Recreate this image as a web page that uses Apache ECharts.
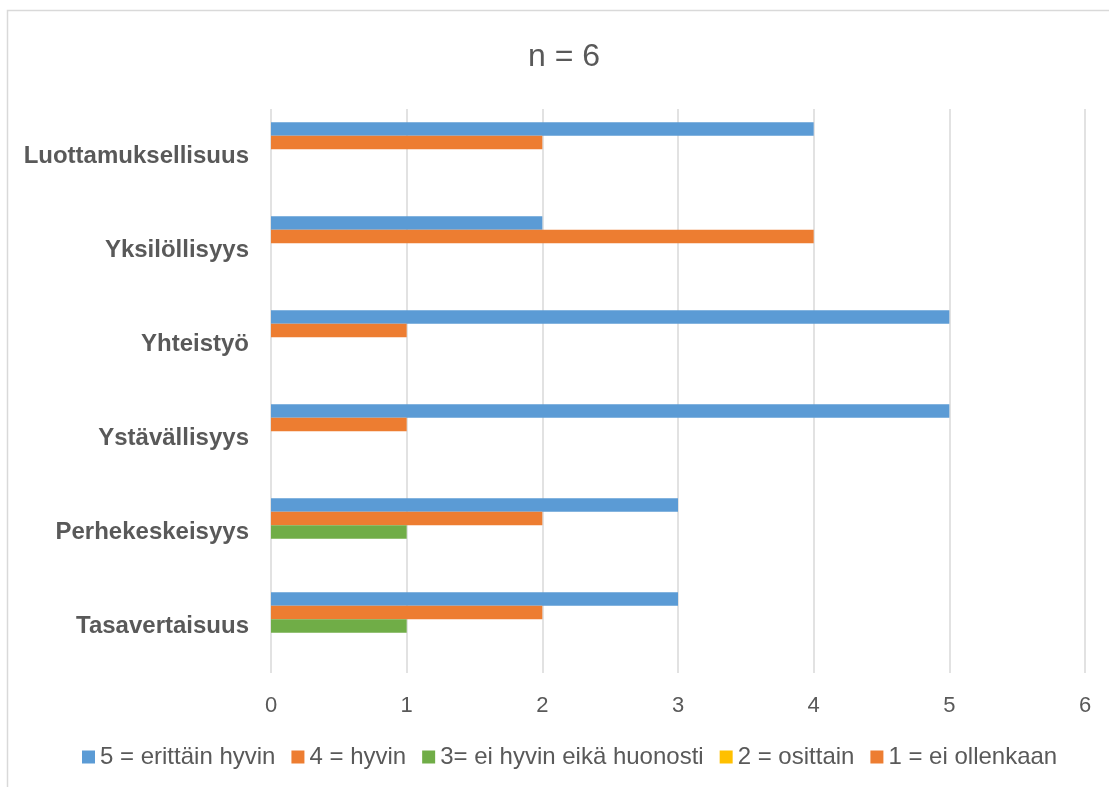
<!DOCTYPE html>
<html>
<head>
<meta charset="utf-8">
<title>n = 6</title>
<script src="https://cdn.jsdelivr.net/npm/echarts@6/dist/echarts.min.js"></script>
<style>
  html, body { margin: 0; padding: 0; background: #ffffff; }
  #chart { width: 1109px; height: 787px; }
</style>
</head>
<body>
<div id="chart"></div>
<script>
// Categories, listed from the bottom of the axis to the top
const categories = [
  'Tasavertaisuus',
  'Perhekeskeisyys',
  'Ystävällisyys',
  'Yhteistyö',
  'Yksilöllisyys',
  'Luottamuksellisuus'
];

// Answer counts per rating level, same category order
const seriesNames = [
  '5 = erittäin hyvin',
  '4 = hyvin',
  '3= ei hyvin eikä huonosti',
  '2 = osittain',
  '1 = ei ollenkaan'
];
const rating5 = [3, 3, 5, 5, 2, 4];
const rating4 = [2, 2, 1, 1, 4, 2];
const rating3 = [1, 1, 0, 0, 0, 0];
const rating2 = [0, 0, 0, 0, 0, 0];
const rating1 = [0, 0, 0, 0, 0, 0];

const xTicks = { min: 0, max: 6, interval: 1 };
const seriesColors = ['#5B9BD5', '#ED7D31', '#70AD47', '#FFC000', '#ED7D31'];

const values = [rating5, rating4, rating3, rating2, rating1];
const textColor = '#595959';
const gridColor = '#d9d9d9';
const fontFamily = '"Liberation Sans", Arial, sans-serif';

const chart = echarts.init(document.getElementById('chart'), null, { renderer: 'canvas' });

chart.setOption({
  backgroundColor: '#ffffff',
  animation: false,
  color: seriesColors,
  title: {
    text: 'n = 6',
    left: 523,
    top: 36,
    textStyle: {
      color: textColor,
      fontFamily: fontFamily,
      fontSize: 32,
      fontWeight: 'normal'
    }
  },
  graphic: [{
    type: 'rect',
    silent: true,
    shape: { x: 7.5, y: 10.5, width: 1200, height: 900 },
    style: { fill: 'none', stroke: gridColor, lineWidth: 1.5 }
  }],
  legend: {
    data: seriesNames,
    left: 82,
    top: 745,
    padding: 0,
    itemWidth: 13,
    itemHeight: 13,
    itemGap: 16,
    icon: 'rect',
    textStyle: {
      color: textColor,
      fontFamily: fontFamily,
      fontSize: 24
    }
  },
  grid: {
    left: 271,
    right: 24,
    top: 109,
    bottom: 114,
    containLabel: false
  },
  xAxis: {
    type: 'value',
    min: xTicks.min,
    max: xTicks.max,
    interval: xTicks.interval,
    axisLine: { show: false },
    axisTick: { show: false },
    axisLabel: {
      color: textColor,
      fontFamily: fontFamily,
      fontSize: 22,
      margin: 22
    },
    splitLine: {
      show: true,
      lineStyle: { color: gridColor, width: 1.5 }
    }
  },
  yAxis: {
    type: 'category',
    data: categories,
    axisLine: { show: false },
    axisTick: { show: false },
    axisLabel: {
      color: textColor,
      fontFamily: fontFamily,
      fontSize: 24,
      fontWeight: 'bold',
      margin: 22
    },
    splitLine: { show: false }
  },
  series: seriesNames.map((name, i) => ({
    name: name,
    type: 'bar',
    data: values[i],
    barGap: '0%',
    barCategoryGap: '28%',
    itemStyle: { color: seriesColors[i] }
  }))
});
</script>
</body>
</html>
